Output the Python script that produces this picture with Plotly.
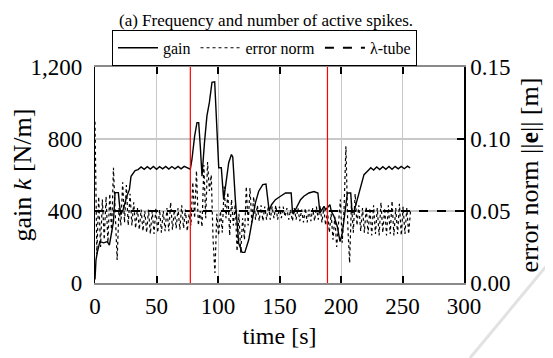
import plotly.graph_objects as go

# ---------------- data ----------------
gain_time = [0, 0.8, 2, 4, 7, 10, 11.7, 13.6, 15, 16.3, 19, 20, 21, 23, 25.8, 28, 29.3, 32.6,
             35, 37.5, 40, 42.5, 45, 47.5, 50, 52.5, 55, 57.5, 60, 62.5, 65, 67.5, 70, 72.5, 75, 77.5,
             78.8, 81, 82.9, 84.3, 85.6, 87, 89, 91, 93, 95.1, 97.3, 99.2, 100.6, 102.7, 104.6,
             106.5, 108.7, 110.9, 112, 114.1, 116.8, 119.6, 121.8, 125, 127.7, 130.4, 133.1, 136.4,
             139, 140.8, 141.6, 143.5, 146.7, 150.8, 154.9, 159.5, 160.6, 161.6, 164.4, 167.1, 169.8,
             173.9, 178, 181.2, 182.9, 184.8, 186.2, 187.5, 189.4, 191, 192.1, 194.3, 197, 199.2,
             201.1, 203, 205.2, 207.9, 209, 210.6, 213.3, 216, 218.7, 221.5, 224.2,
             226.5, 229, 231.5, 234, 236.5, 239, 241.5, 244, 246.5, 249, 251.5, 254, 256.2]
gain_values = [20, 128, 175, 230, 223, 230, 210, 279, 340, 502, 502, 430, 380, 410, 481, 520, 593, 625,
               630, 645, 632, 646, 633, 647, 632, 646, 634, 648, 633, 647, 634, 648, 634, 648, 640, 632,
               686, 816, 891, 891, 760, 593, 780, 928, 1003, 1115, 1118, 872, 640, 640, 463,
               556, 668, 714, 700, 463, 221, 170, 170, 240, 351, 445, 510, 547,
               550, 426, 400, 435, 463, 482, 500, 500, 389, 389, 426, 463, 482,
               500, 508, 500, 389, 407, 426, 407, 426, 435, 398, 370, 314, 230,
               277, 389, 500, 500, 389, 398, 463, 537, 602, 621, 640,
               628, 645, 630, 646, 632, 647, 632, 648, 634, 648, 635, 649, 640]

error_step = 1.5  # sampling interval of the error-norm record [s]
error_norm = [
    0.112, 0.020, 0.060, 0.025, 0.058, 0.030, 0.060, 0.028, 0.062, 0.035,
    0.080, 0.040, 0.016, 0.052, 0.040, 0.070, 0.042, 0.068, 0.040, 0.062,
    0.040, 0.056, 0.038, 0.052, 0.037, 0.051, 0.036, 0.050, 0.035, 0.051,
    0.034, 0.050, 0.034, 0.052, 0.035, 0.051, 0.035, 0.050, 0.036, 0.052,
    0.036, 0.056, 0.037, 0.051, 0.038, 0.052, 0.037, 0.054, 0.038, 0.051,
    0.036, 0.048, 0.040, 0.070, 0.045, 0.078, 0.040, 0.050, 0.039, 0.082,
    0.045, 0.084, 0.064, 0.075, 0.030, 0.007, 0.048, 0.033, 0.050, 0.035,
    0.067, 0.045, 0.063, 0.033, 0.058, 0.040, 0.055, 0.022, 0.048, 0.021,
    0.045, 0.030, 0.067, 0.040, 0.066, 0.042, 0.060, 0.044, 0.054, 0.043,
    0.054, 0.043, 0.053, 0.044, 0.054, 0.044, 0.053, 0.045, 0.054, 0.044,
    0.053, 0.045, 0.053, 0.046, 0.052, 0.044, 0.051, 0.043, 0.052, 0.044,
    0.052, 0.043, 0.051, 0.042, 0.052, 0.042, 0.051, 0.043, 0.052, 0.043,
    0.053, 0.044, 0.054, 0.042, 0.052, 0.040, 0.050, 0.035, 0.048, 0.030,
    0.046, 0.025, 0.040, 0.058, 0.028, 0.052, 0.095, 0.040, 0.014, 0.056,
    0.035, 0.062, 0.040, 0.054, 0.036, 0.052, 0.035, 0.053, 0.034, 0.052,
    0.033, 0.054, 0.034, 0.052, 0.033, 0.056, 0.035, 0.052, 0.033, 0.054,
    0.034, 0.057, 0.033, 0.052, 0.034, 0.055, 0.033, 0.053, 0.034, 0.052,
    0.034, 0.050,
]
error_time = [i * error_step for i in range(len(error_norm))]

lambda_tube = 0.05
tube_time = [0, 300]
switch_times = [77.5, 189]

x_ticks = [0, 50, 100, 150, 200, 250, 300]
gain_ticks = [0, 400, 800, 1200]
error_ticks = [0.0, 0.05, 0.10, 0.15]

FONT = "Liberation Serif, Times New Roman, serif"

fig = go.Figure()
fig.add_trace(go.Scatter(x=gain_time, y=gain_values, mode="lines", name="gain",
                         line=dict(color="black", width=1.4)))
fig.add_trace(go.Scatter(x=error_time, y=error_norm, mode="lines", name="error norm",
                         yaxis="y2", line=dict(color="black", width=1.2, dash="dot")))
fig.add_trace(go.Scatter(x=tube_time, y=[lambda_tube, lambda_tube], mode="lines", name="λ-tube",
                         yaxis="y2", line=dict(color="black", width=2, dash="dash")))

for t in switch_times:
    fig.add_shape(type="line", xref="x", yref="paper", x0=t, x1=t, y0=0, y1=1,
                  line=dict(color="red", width=1.2))

# faint watermark stroke in the corner
fig.add_shape(type="line", xref="paper", yref="paper",
              x0=(553 - 95) / 369, y0=(283 - 258) / 216,
              x1=(470 - 95) / 369, y1=(283 - 358) / 216,
              line=dict(color="#e2e2e2", width=3), layer="below")

fig.update_layout(
    width=545, height=350,
    margin=dict(l=87, r=89, t=59, b=75, autoexpand=False),
    paper_bgcolor="white", plot_bgcolor="white",
    font=dict(family=FONT, size=23, color="black"),
    showlegend=True,
    legend=dict(orientation="h", x=0.046, y=1.172, xanchor="left", yanchor="top",
                bordercolor="black", borderwidth=1, bgcolor="white",
                font=dict(size=16, family=FONT), itemwidth=40, tracegroupgap=0),
    xaxis=dict(range=[0, 300], tickvals=x_ticks, showgrid=True, gridcolor="#c8c8c8",
               gridwidth=1, zeroline=False, showline=True, linecolor="#8a8a8a", linewidth=1.5,
               mirror="ticks", ticks="inside", ticklen=7, tickcolor="black", tickwidth=1.5,
               automargin=False, ticklabelstandoff=2,
               title=dict(text="time [s]", standoff=9, font=dict(size=24)), tickfont=dict(size=23)),
    yaxis=dict(range=[0, 1200], tickvals=gain_ticks, tickformat=",", showgrid=True,
               gridcolor="#c8c8c8", gridwidth=1.5, zeroline=False, showline=True,
               linecolor="black", linewidth=1.2, ticks="", automargin=False, ticklabelstandoff=7,
               title=dict(text="gain <i>k</i> [N/m]", standoff=2, font=dict(size=26)),
               tickfont=dict(size=23)),
    yaxis2=dict(range=[0, 0.15], tickvals=error_ticks, tickformat=".2f", overlaying="y",
                side="right", showgrid=False, zeroline=False, showline=True, linecolor="black",
                linewidth=1.5, ticks="inside", ticklen=7, tickcolor="black", tickwidth=1.5,
                automargin=False, ticklabelstandoff=0,
                title=dict(text="error norm ||<b>e</b>|| [m]", standoff=10, font=dict(size=26)),
                tickfont=dict(size=23)),
    annotations=[dict(text="(a) Frequency and number of active spikes.", xref="paper", yref="paper",
                      x=(266 - 95) / 369, y=1 + 58 / 216, xanchor="center", yanchor="top",
                      showarrow=False, font=dict(size=17, family=FONT))],
)

fig.write_html("out.html")
